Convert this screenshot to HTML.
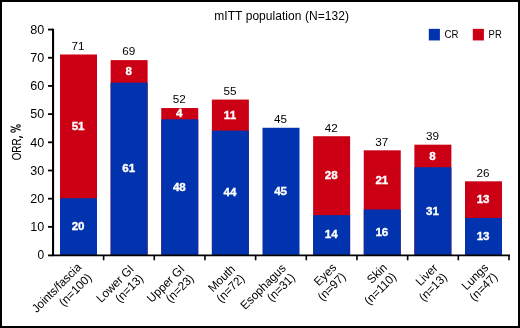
<!DOCTYPE html><html><head><meta charset="utf-8"><style>html,body{margin:0;padding:0;background:#fff;}svg{display:block;will-change:transform;font-family:"Liberation Sans",sans-serif;}</style></head><body>
<svg width="520" height="328" viewBox="0 0 520 328">
<rect x="0" y="0" width="520" height="328" fill="#fff"/>
<rect x="60.00" y="54.49" width="37" height="200.41" fill="#cc0014"/>
<rect x="60.00" y="198.23" width="37" height="56.67" fill="#0033ad"/>
<text x="78.10" y="230.01" fill="#fff" stroke="#fff" stroke-width="0.35" font-weight="700" font-size="11.6" text-anchor="middle">20</text>
<text x="78.10" y="129.96" fill="#fff" stroke="#fff" stroke-width="0.35" font-weight="700" font-size="11.6" text-anchor="middle">51</text>
<text x="78.10" y="49.79" fill="#000" font-size="11.7" text-anchor="middle">71</text>
<g transform="translate(82.00,268.00) rotate(-45) scale(0.97,1)"><text x="0" y="0" font-size="12" text-anchor="end">Joints/fascia</text><text x="0" y="14.7" font-size="12" text-anchor="end">(n=100)</text></g>
<rect x="110.62" y="60.12" width="37" height="194.78" fill="#cc0014"/>
<rect x="110.62" y="82.67" width="37" height="172.23" fill="#0033ad"/>
<text x="128.72" y="172.24" fill="#fff" stroke="#fff" stroke-width="0.35" font-weight="700" font-size="11.6" text-anchor="middle">61</text>
<text x="128.72" y="75.00" fill="#fff" stroke="#fff" stroke-width="0.35" font-weight="700" font-size="11.6" text-anchor="middle">8</text>
<text x="128.72" y="55.42" fill="#000" font-size="11.7" text-anchor="middle">69</text>
<g transform="translate(134.62,269.80) rotate(-45) scale(0.97,1)"><text x="0" y="0" font-size="12" text-anchor="end">Lower GI</text><text x="0" y="13.2" font-size="12" text-anchor="end">(n=13)</text></g>
<rect x="161.25" y="108.04" width="37" height="146.86" fill="#cc0014"/>
<rect x="161.25" y="119.31" width="37" height="135.59" fill="#0033ad"/>
<text x="179.35" y="190.56" fill="#fff" stroke="#fff" stroke-width="0.35" font-weight="700" font-size="11.6" text-anchor="middle">48</text>
<text x="179.35" y="117.28" fill="#fff" stroke="#fff" stroke-width="0.35" font-weight="700" font-size="11.6" text-anchor="middle">4</text>
<text x="179.35" y="103.34" fill="#000" font-size="11.7" text-anchor="middle">52</text>
<g transform="translate(185.25,269.80) rotate(-45) scale(0.97,1)"><text x="0" y="0" font-size="12" text-anchor="end">Upper GI</text><text x="0" y="13.2" font-size="12" text-anchor="end">(n=23)</text></g>
<rect x="211.88" y="99.58" width="37" height="155.32" fill="#cc0014"/>
<rect x="211.88" y="130.59" width="37" height="124.31" fill="#0033ad"/>
<text x="229.97" y="196.19" fill="#fff" stroke="#fff" stroke-width="0.35" font-weight="700" font-size="11.6" text-anchor="middle">44</text>
<text x="229.97" y="118.68" fill="#fff" stroke="#fff" stroke-width="0.35" font-weight="700" font-size="11.6" text-anchor="middle">11</text>
<text x="229.97" y="94.88" fill="#000" font-size="11.7" text-anchor="middle">55</text>
<g transform="translate(235.88,269.80) rotate(-45) scale(0.97,1)"><text x="0" y="0" font-size="12" text-anchor="end">Mouth</text><text x="0" y="13.2" font-size="12" text-anchor="end">(n=72)</text></g>
<rect x="262.50" y="127.77" width="37" height="127.13" fill="#0033ad"/>
<text x="280.60" y="194.78" fill="#fff" stroke="#fff" stroke-width="0.35" font-weight="700" font-size="11.6" text-anchor="middle">45</text>
<text x="280.60" y="123.07" fill="#000" font-size="11.7" text-anchor="middle">45</text>
<g transform="translate(286.50,269.00) rotate(-45) scale(0.97,1)"><text x="0" y="0" font-size="12" text-anchor="end">Esophagus</text><text x="0" y="13.2" font-size="12" text-anchor="end">(n=31)</text></g>
<rect x="313.12" y="136.22" width="37" height="118.68" fill="#cc0014"/>
<rect x="313.12" y="215.14" width="37" height="39.76" fill="#0033ad"/>
<text x="331.23" y="238.47" fill="#fff" stroke="#fff" stroke-width="0.35" font-weight="700" font-size="11.6" text-anchor="middle">14</text>
<text x="331.23" y="179.28" fill="#fff" stroke="#fff" stroke-width="0.35" font-weight="700" font-size="11.6" text-anchor="middle">28</text>
<text x="331.23" y="131.52" fill="#000" font-size="11.7" text-anchor="middle">42</text>
<g transform="translate(337.12,268.20) rotate(-45) scale(0.97,1)"><text x="0" y="0" font-size="12" text-anchor="end">Eyes</text><text x="0" y="13.2" font-size="12" text-anchor="end">(n=97)</text></g>
<rect x="363.75" y="150.32" width="37" height="104.58" fill="#cc0014"/>
<rect x="363.75" y="209.50" width="37" height="45.40" fill="#0033ad"/>
<text x="381.85" y="235.65" fill="#fff" stroke="#fff" stroke-width="0.35" font-weight="700" font-size="11.6" text-anchor="middle">16</text>
<text x="381.85" y="183.51" fill="#fff" stroke="#fff" stroke-width="0.35" font-weight="700" font-size="11.6" text-anchor="middle">21</text>
<text x="381.85" y="145.62" fill="#000" font-size="11.7" text-anchor="middle">37</text>
<g transform="translate(387.75,268.30) rotate(-45) scale(0.97,1)"><text x="0" y="0" font-size="12" text-anchor="end">Skin</text><text x="0" y="13.2" font-size="12" text-anchor="end">(n=110)</text></g>
<rect x="414.38" y="144.68" width="37" height="110.22" fill="#cc0014"/>
<rect x="414.38" y="167.23" width="37" height="87.67" fill="#0033ad"/>
<text x="432.48" y="214.51" fill="#fff" stroke="#fff" stroke-width="0.35" font-weight="700" font-size="11.6" text-anchor="middle">31</text>
<text x="432.48" y="159.55" fill="#fff" stroke="#fff" stroke-width="0.35" font-weight="700" font-size="11.6" text-anchor="middle">8</text>
<text x="432.48" y="139.98" fill="#000" font-size="11.7" text-anchor="middle">39</text>
<g transform="translate(438.38,268.70) rotate(-45) scale(0.97,1)"><text x="0" y="0" font-size="12" text-anchor="end">Liver</text><text x="0" y="13.2" font-size="12" text-anchor="end">(n=13)</text></g>
<rect x="465.00" y="181.32" width="37" height="73.58" fill="#cc0014"/>
<rect x="465.00" y="217.96" width="37" height="36.94" fill="#0033ad"/>
<text x="483.10" y="239.88" fill="#fff" stroke="#fff" stroke-width="0.35" font-weight="700" font-size="11.6" text-anchor="middle">13</text>
<text x="483.10" y="203.24" fill="#fff" stroke="#fff" stroke-width="0.35" font-weight="700" font-size="11.6" text-anchor="middle">13</text>
<text x="483.10" y="176.62" fill="#000" font-size="11.7" text-anchor="middle">26</text>
<g transform="translate(489.00,268.30) rotate(-45) scale(0.97,1)"><text x="0" y="0" font-size="12" text-anchor="end">Lungs</text><text x="0" y="13.2" font-size="12" text-anchor="end">(n=47)</text></g>
<path d="M53.05 28.75 V256" stroke="#000" stroke-width="2.1" fill="none"/>
<path d="M52.2 255.4 H509.9" stroke="#000" stroke-width="1.9" fill="none"/>
<path d="M48 255.40 H53" stroke="#000" stroke-width="1.8"/>
<text x="44.3" y="258.60" font-size="12" text-anchor="end">0</text>
<path d="M48 226.86 H53" stroke="#000" stroke-width="1.8"/>
<text x="44.3" y="231.16" font-size="12" text-anchor="end" textLength="14" lengthAdjust="spacingAndGlyphs">10</text>
<path d="M48 198.68 H53" stroke="#000" stroke-width="1.8"/>
<text x="44.3" y="202.98" font-size="12" text-anchor="end" textLength="14" lengthAdjust="spacingAndGlyphs">20</text>
<path d="M48 170.50 H53" stroke="#000" stroke-width="1.8"/>
<text x="44.3" y="174.80" font-size="12" text-anchor="end" textLength="14" lengthAdjust="spacingAndGlyphs">30</text>
<path d="M48 142.31 H53" stroke="#000" stroke-width="1.8"/>
<text x="44.3" y="146.61" font-size="12" text-anchor="end" textLength="14" lengthAdjust="spacingAndGlyphs">40</text>
<path d="M48 114.13 H53" stroke="#000" stroke-width="1.8"/>
<text x="44.3" y="118.43" font-size="12" text-anchor="end" textLength="14" lengthAdjust="spacingAndGlyphs">50</text>
<path d="M48 85.94 H53" stroke="#000" stroke-width="1.8"/>
<text x="44.3" y="90.24" font-size="12" text-anchor="end" textLength="14" lengthAdjust="spacingAndGlyphs">60</text>
<path d="M48 57.76 H53" stroke="#000" stroke-width="1.8"/>
<text x="44.3" y="62.06" font-size="12" text-anchor="end" textLength="14" lengthAdjust="spacingAndGlyphs">70</text>
<path d="M48 29.57 H53" stroke="#000" stroke-width="1.8"/>
<text x="44.3" y="33.87" font-size="12" text-anchor="end" textLength="14" lengthAdjust="spacingAndGlyphs">80</text>
<path d="M103.62 255 V260.3" stroke="#000" stroke-width="1.6"/>
<path d="M154.29 255 V260.3" stroke="#000" stroke-width="1.6"/>
<path d="M204.96 255 V260.3" stroke="#000" stroke-width="1.6"/>
<path d="M255.63 255 V260.3" stroke="#000" stroke-width="1.6"/>
<path d="M306.30 255 V260.3" stroke="#000" stroke-width="1.6"/>
<path d="M356.97 255 V260.3" stroke="#000" stroke-width="1.6"/>
<path d="M407.64 255 V260.3" stroke="#000" stroke-width="1.6"/>
<path d="M458.31 255 V260.3" stroke="#000" stroke-width="1.6"/>
<path d="M508.98 255 V260.3" stroke="#000" stroke-width="1.6"/>
<g transform="translate(20.8,0) rotate(-90)"><text x="-160.3" y="0" font-size="13.4" textLength="24.6" lengthAdjust="spacingAndGlyphs">ORR,</text></g>
<g fill="none" stroke="#000" stroke-width="1.05"><ellipse cx="13.1" cy="130.8" rx="2.25" ry="1.4"/><ellipse cx="18.45" cy="126" rx="1.85" ry="1.3"/><path d="M10.7 126.4 L20.6 130.3"/></g>
<path d="M19.6 136.5 L22.5 137.6" stroke="#000" stroke-width="1.1" stroke-linecap="round" fill="none"/>
<text x="214.3" y="19.6" font-size="12" textLength="134.6">mITT population (N=132)</text>
<rect x="428.8" y="28.85" width="11.1" height="11.6" fill="#0033ad"/><text x="444.5" y="38.35" font-size="11.7" textLength="14" lengthAdjust="spacingAndGlyphs">CR</text>
<rect x="472.8" y="28.85" width="11.1" height="11.6" fill="#cc0014"/><text x="488.6" y="38.35" font-size="11.7" textLength="13.1" lengthAdjust="spacingAndGlyphs">PR</text>
<rect x="1" y="1" width="518" height="326" fill="none" stroke="#000" stroke-width="2"/>
</svg></body></html>
